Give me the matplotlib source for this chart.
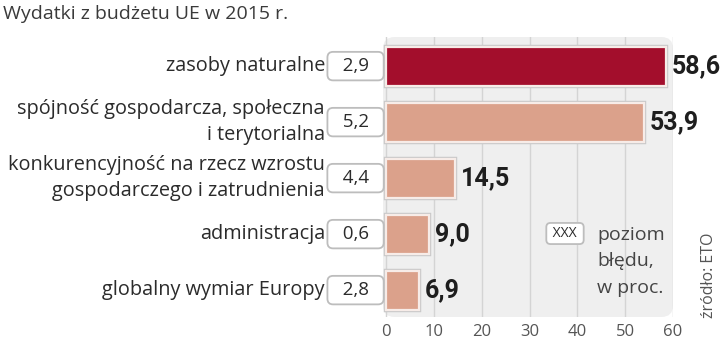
import matplotlib
matplotlib.use("Agg")
import matplotlib.pyplot as plt
from matplotlib.patches import FancyBboxPatch
import matplotlib.patheffects as pe

# data
categories = [
    "zasoby naturalne",
    "spójność gospodarcza, społeczna\ni terytorialna",
    "konkurencyjność na rzecz wzrostu\ngospodarczego i zatrudnienia",
    "administracja",
    "globalny wymiar Europy",
]
spending = [58.6, 53.9, 14.5, 9.0, 6.9]
error_level = ["2,9", "5,2", "4,4", "0,6", "2,8"]
xticks = [0, 10, 20, 30, 40, 50, 60]

title = "Wydatki z budżetu UE w 2015 r."
source = "źródło: ETO"

dark_red = "#a30e2c"
salmon = "#dba18b"
panel_gray = "#efefef"
grid_gray = "#d4d4d4"
text_dark = "#2b2b2b"

label_font = ["Open Sans", "DejaVu Sans"]
value_font = ["Roboto", "DejaVu Sans"]

W, H = 720, 343
fig = plt.figure(figsize=(W / 100, H / 100), dpi=100)

# panel in pixels: x 383..673, y 37..317 (from top)
px_left, px_right, px_top, px_bottom = 383, 673, 37, 317
ax = fig.add_axes([px_left / W, (H - px_bottom) / H,
                   (px_right - px_left) / W, (px_bottom - px_top) / H])
ax.set_facecolor("none")
ax.set_xlim(-0.65, 59.8)
ax.set_ylim(4.48, -0.52)

panel = FancyBboxPatch((0, 0), 1, 1, transform=ax.transAxes,
                       boxstyle="round,pad=0,rounding_size=0.04",
                       mutation_aspect=(px_right - px_left) / (px_bottom - px_top),
                       fc=panel_gray, ec="none", zorder=0, clip_on=False)
ax.add_patch(panel)

ax.set_axisbelow(True)
ax.grid(axis="x", color=grid_gray, lw=1)
ax.grid(axis="y", visible=False)
for s in ax.spines.values():
    s.set_visible(False)

ypos = list(range(len(categories)))
colors = [dark_red] + [salmon] * (len(categories) - 1)
bars = ax.barh(ypos, spending, height=0.7, color=colors,
               edgecolor="#f7ece8", linewidth=1.6, zorder=3)
for b in bars:
    b.set_path_effects([pe.withStroke(linewidth=3.2, foreground="#c9c9c9")])

ax.set_xticks(xticks)
ax.set_xticklabels([str(t) for t in xticks], fontsize=12, color="#555555",
                   family=label_font)
ax.tick_params(axis="x", length=0, pad=5)
ax.set_yticks([])

for y, cat, val, err in zip(ypos, categories, spending, error_level):
    # category label
    ax.annotate(cat, xy=(0, y), xytext=(-44, 0), textcoords="offset points",
                ha="right", va="center", fontsize=14.3, color=text_dark,
                family=label_font, linespacing=1.35, annotation_clip=False)
    # error level box
    ax.annotate("  " + err + "  ", xy=(0, y), xytext=(-22, 0),
                textcoords="offset points", ha="center", va="center",
                fontsize=13.5, color=text_dark, family=label_font,
                annotation_clip=False,
                bbox=dict(boxstyle="round,pad=0.28,rounding_size=0.3",
                          fc="white", ec="#bdbdbd", lw=1.3))
    # value label
    ax.annotate(f"{val:.1f}".replace(".", ","), xy=(val, y), xytext=(4, 0),
                textcoords="offset points", ha="left", va="center",
                fontsize=18, fontweight="bold", color="#1e1e1e",
                family=value_font, annotation_clip=False)

# title
fig.text(3 / W, 1 - 14 / H, title, ha="left", va="center", fontsize=14,
         color="#3a3a3a", family=label_font)

# legend
fig.text(565 / W, 1 - 233.5 / H, " XXX ", ha="center", va="center",
         fontsize=10, color=text_dark, family=label_font,
         bbox=dict(boxstyle="round,pad=0.22,rounding_size=0.3",
                   fc="white", ec="#bdbdbd", lw=1.3))
fig.text(597 / W, 1 - 226 / H, "poziom\nbłędu,\nw proc.", ha="left", va="top",
         fontsize=14, color="#444444", family=label_font, linespacing=1.6)

# source
fig.text(709 / W, 1 - 275 / H, source, rotation=90, ha="center", va="center",
         fontsize=11.5, color="#555555", family=label_font)

fig.savefig("out.png", dpi=100)
